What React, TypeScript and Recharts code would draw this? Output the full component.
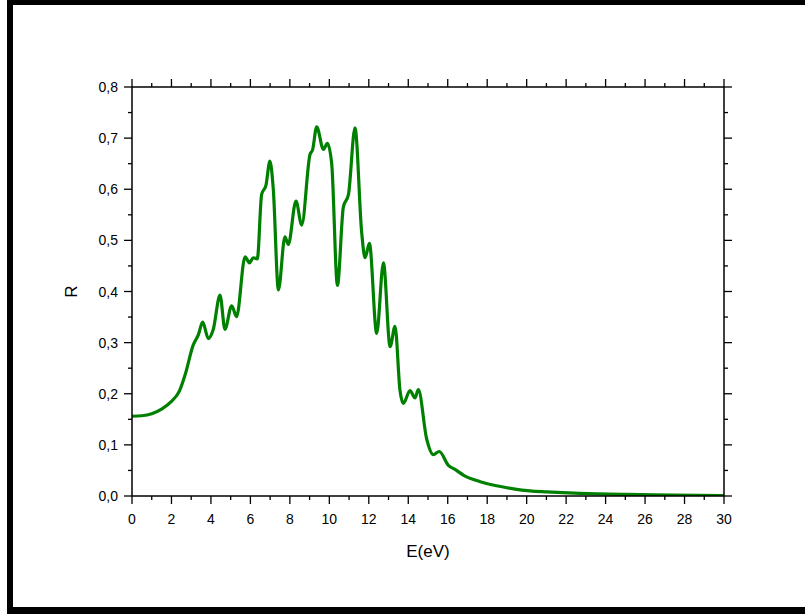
import React from 'react';
import { LineChart, Line, XAxis, YAxis } from 'recharts';

const energy = [
  0, 0.5, 1.0, 1.5, 2.0, 2.4, 2.7, 3.1, 3.36, 3.58, 3.87, 4.12, 4.46, 4.71, 5.05, 5.3,
  5.73, 5.95, 6.15, 6.35, 6.57, 6.79, 6.99, 7.16, 7.42, 7.75, 7.92, 8.31, 8.6, 9.02,
  9.15, 9.36, 9.7, 9.9, 10.12, 10.41, 10.71, 10.97, 11.3, 11.64, 11.81, 12.03, 12.4,
  12.74, 13.08, 13.33, 13.58, 13.75, 14.09, 14.34, 14.51, 14.93, 15.27, 15.57, 16.03,
  16.37, 16.79, 17.64, 18.48, 19.33, 20.17, 21.0, 22.7, 25, 27.5, 30,
];
const reflectivity = [
  0.156, 0.157, 0.161, 0.17, 0.185, 0.205, 0.238, 0.295, 0.315, 0.34, 0.308, 0.326,
  0.393, 0.326, 0.372, 0.351, 0.468, 0.456, 0.466, 0.464, 0.59, 0.608, 0.655, 0.6,
  0.403, 0.507, 0.492, 0.577, 0.53, 0.668, 0.677, 0.722, 0.678, 0.69, 0.65, 0.412,
  0.565, 0.59, 0.72, 0.515, 0.466, 0.494, 0.318, 0.456, 0.292, 0.332, 0.207, 0.181,
  0.206, 0.192, 0.208, 0.112, 0.081, 0.087, 0.06, 0.052, 0.041, 0.028, 0.02, 0.014,
  0.01, 0.008, 0.005, 0.003, 0.002, 0.001,
];
const xTicks = Array.from({ length: 31 }, (_, i) => i);
const yTicks = Array.from({ length: 17 }, (_, i) => Math.round(i * 5) / 100);

const data = energy.map((e, i) => ({ e, r: reflectivity[i] }));

const FONT = '"Liberation Sans", Arial, sans-serif';
const MAJOR = 8;
const MINOR = 4;

const BottomTick = (props: any) => {
  const { x, y, payload } = props;
  const major = payload.value % 2 === 0;
  return (
    <g>
      <line x1={x} y1={y} x2={x} y2={y + (major ? MAJOR : MINOR)} stroke="#000" strokeWidth={1.3} />
      {major && (
        <text x={x} y={y + 28} textAnchor="middle" fontFamily={FONT} fontSize={14} fill="#000">
          {payload.value}
        </text>
      )}
    </g>
  );
};

const TopTick = (props: any) => {
  const { x, y, payload } = props;
  const major = payload.value % 2 === 0;
  return <line x1={x} y1={y} x2={x} y2={y - (major ? MAJOR : MINOR)} stroke="#000" strokeWidth={1.3} />;
};

const isMajorY = (v: number) => Math.abs(Math.round(v * 10) - v * 10) < 1e-6;

const LeftTick = (props: any) => {
  const { x, y, payload } = props;
  const major = isMajorY(payload.value);
  return (
    <g>
      <line x1={x} y1={y} x2={x - (major ? MAJOR : MINOR)} y2={y} stroke="#000" strokeWidth={1.3} />
      {major && (
        <text x={x - 14} y={y + 5} textAnchor="end" fontFamily={FONT} fontSize={14} fill="#000">
          {payload.value.toFixed(1).replace('.', ',')}
        </text>
      )}
    </g>
  );
};

const RightTick = (props: any) => {
  const { x, y, payload } = props;
  const major = isMajorY(payload.value);
  return <line x1={x} y1={y} x2={x + (major ? MAJOR : MINOR)} y2={y} stroke="#000" strokeWidth={1.3} />;
};

export default function App() {
  return (
    <div style={{ position: 'absolute', left: 0, top: 0, width: 805, height: 614, background: '#fff', overflow: 'hidden' }}>
      <div style={{ position: 'absolute', left: 7, top: 0, width: 6, height: 614, background: '#000' }} />
      <div style={{ position: 'absolute', left: 7, top: 0, width: 798, height: 5, background: '#000' }} />
      <div style={{ position: 'absolute', left: 7, top: 607, width: 798, height: 7, background: '#000' }} />
      <div style={{ position: 'absolute', left: 0, top: 0 }}>
        <LineChart width={805} height={614} data={data} margin={{ top: 67, right: 41, bottom: 68, left: 72 }}>
          <XAxis
            dataKey="e"
            type="number"
            domain={[0, 30]}
            allowDataOverflow
            ticks={xTicks}
            interval={0}
            tickSize={0}
            tickMargin={0}
            tickLine={false}
            tick={<BottomTick />}
            axisLine={{ stroke: '#000', strokeWidth: 1.5 }}
            height={50}
            label={{
              content: (p: any) => {
                const vb = p.viewBox;
                return (
                  <text x={vb.x + vb.width / 2} y={vb.y + 61} textAnchor="middle" fontFamily={FONT} fontSize={17} fill="#000">
                    E(eV)
                  </text>
                );
              },
            }}
          />
          <XAxis
            xAxisId="top"
            orientation="top"
            dataKey="e"
            type="number"
            domain={[0, 30]}
            allowDataOverflow
            ticks={xTicks}
            interval={0}
            tickSize={0}
            tickMargin={0}
            tickLine={false}
            tick={<TopTick />}
            axisLine={{ stroke: '#000', strokeWidth: 1.5 }}
            height={20}
          />
          <YAxis
            type="number"
            domain={[0, 0.8]}
            allowDataOverflow
            ticks={yTicks}
            interval={0}
            tickSize={0}
            tickMargin={0}
            tickLine={false}
            tick={<LeftTick />}
            axisLine={{ stroke: '#000', strokeWidth: 1.5 }}
            width={60}
            label={{
              content: (p: any) => {
                const vb = p.viewBox;
                const cx = vb.x + 5;
                const cy = vb.y + vb.height / 2;
                return (
                  <text x={cx} y={cy} transform={`rotate(-90 ${cx} ${cy})`} textAnchor="middle" fontFamily={FONT} fontSize={17} fill="#000">
                    R
                  </text>
                );
              },
            }}
          />
          <YAxis
            yAxisId="right"
            orientation="right"
            type="number"
            domain={[0, 0.8]}
            allowDataOverflow
            ticks={yTicks}
            interval={0}
            tickSize={0}
            tickMargin={0}
            tickLine={false}
            tick={<RightTick />}
            axisLine={{ stroke: '#000', strokeWidth: 1.5 }}
            width={40}
          />
          <Line
            xAxisId="top"
            yAxisId="right"
            type="monotone"
            dataKey="r"
            stroke="none"
            strokeWidth={0}
            dot={false}
            activeDot={false}
            legendType="none"
            isAnimationActive={false}
          />
          <Line
            type="monotone"
            dataKey="r"
            stroke="#008000"
            strokeWidth={3.2}
            dot={false}
            isAnimationActive={false}
          />
        </LineChart>
      </div>
    </div>
  );
}
